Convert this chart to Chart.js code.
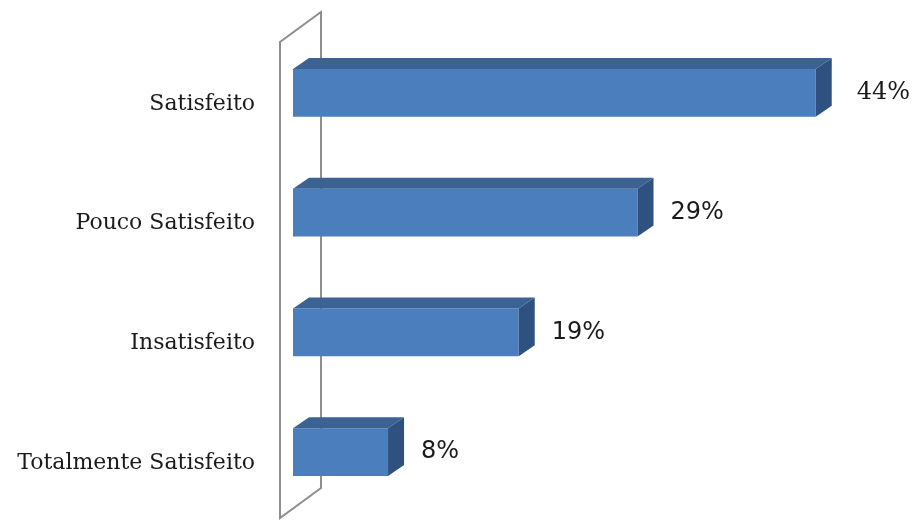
<!DOCTYPE html>
<html>
<head>
<meta charset="utf-8">
<script src="https://cdn.jsdelivr.net/npm/chart.js@4/dist/chart.umd.min.js"></script>
<style>
  html, body { margin: 0; padding: 0; background: #fff; overflow: hidden; }
  canvas { display: block; }
</style>
</head>
<body>
<canvas id="chart" width="912" height="520"></canvas>
<script>
// dados
const categorias = ['Satisfeito', 'Pouco Satisfeito', 'Insatisfeito', 'Totalmente Satisfeito'];
const percentuais = [44, 29, 19, 8];
const rotulos = ['44%', '29%', '19%', '8%'];

const DX = 16, DY = -11; // profundidade 3D das barras

// parede lateral + faces 3D + rótulos
const efeito3d = {
  id: 'efeito3d',
  beforeDatasetsDraw(chart) {
    const { ctx, chartArea } = chart;
    const fx = chartArea.left - 13, fTop = chartArea.top + 9, fBot = chartArea.bottom + 6;
    const bx = fx + 41, off = -30;
    ctx.save();
    ctx.strokeStyle = '#8e8e8e';
    ctx.lineWidth = 2;
    ctx.beginPath();
    ctx.moveTo(fx, fBot);
    ctx.lineTo(fx, fTop);
    ctx.lineTo(bx, fTop + off);
    ctx.lineTo(bx, fBot + off);
    ctx.closePath();
    ctx.stroke();
    ctx.restore();
  },
  afterDatasetsDraw(chart) {
    const { ctx } = chart;
    const meta = chart.getDatasetMeta(0);
    ctx.save();
    meta.data.forEach((bar, i) => {
      const p = bar.getProps(['x', 'y', 'base', 'height'], true);
      const top = p.y - p.height / 2, bot = p.y + p.height / 2;
      // topo
      ctx.fillStyle = '#3b6293';
      ctx.beginPath();
      ctx.moveTo(p.base, top);
      ctx.lineTo(p.x, top);
      ctx.lineTo(p.x + DX, top + DY);
      ctx.lineTo(p.base + DX, top + DY);
      ctx.closePath();
      ctx.fill();
      // lateral
      ctx.fillStyle = '#2f5180';
      ctx.beginPath();
      ctx.moveTo(p.x, top);
      ctx.lineTo(p.x + DX, top + DY);
      ctx.lineTo(p.x + DX, bot + DY);
      ctx.lineTo(p.x, bot);
      ctx.closePath();
      ctx.fill();
      // rótulo
      ctx.fillStyle = '#1a1a1a';
      ctx.font = (i === 0 ? '24px "DejaVu Serif"' : '24px "DejaVu Sans"');
      ctx.textAlign = 'left';
      ctx.textBaseline = 'middle';
      ctx.fillText(rotulos[i], p.x + (i === 0 ? 41 : 33), p.y);
    });
    ctx.restore();
  }
};

new Chart(document.getElementById('chart'), {
  type: 'bar',
  data: {
    labels: categorias,
    datasets: [{
      data: percentuais,
      backgroundColor: '#4b7ebc',
      borderWidth: 0,
      barPercentage: 0.4,
      categoryPercentage: 1
    }]
  },
  options: {
    indexAxis: 'y',
    responsive: false,
    animation: false,
    layout: { padding: { top: 33, bottom: 8, left: 0, right: 25 } },
    plugins: { legend: { display: false }, tooltip: { enabled: false } },
    scales: {
      x: { display: false, min: 0, max: 50 },
      y: {
        grid: { display: false, drawTicks: false },
        border: { display: false },
        ticks: { color: '#1a1a1a', padding: 38, labelOffset: 11, font: { family: '"DejaVu Serif"', size: 22 } },
        afterFit(scale) {
          scale.width = 293;
          // sem folga extra em cima/embaixo por causa do padding dos rótulos
          scale.paddingTop = 0;
          scale.paddingBottom = 0;
        }
      }
    }
  },
  plugins: [efeito3d]
});
</script>
</body>
</html>
